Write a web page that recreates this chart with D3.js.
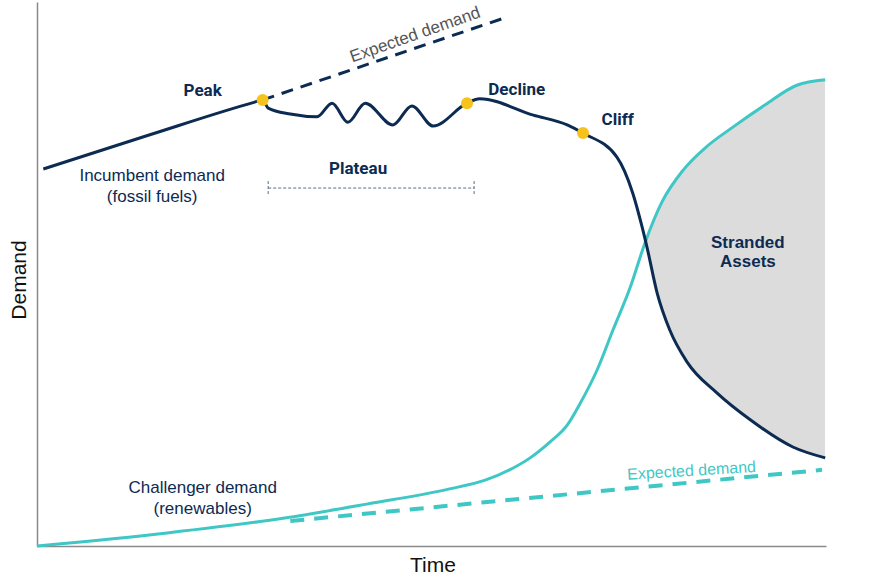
<!DOCTYPE html>
<html>
<head>
<meta charset="utf-8">
<script src="https://cdn.jsdelivr.net/npm/d3@7"></script>
<style>
  body { margin: 0; background: #fff; }
  svg { display: block; }
</style>
</head>
<body>
<div id="chart"></div>
<script>
// Demand curves: incumbent (fossil fuels) vs challenger (renewables)

// time / demand in arbitrary units 0..100
const incumbentX = [0.8, 14.3, 27.6, 28.6, 29.3, 32.1, 35.5, 37.4, 39.4, 41.6, 45.1, 47.5, 50.2, 54.5, 56.1, 62.9, 67.2, 69.2, 73.5, 75.5, 76.7, 77.3, 78.6, 80.2, 82.4, 86.2, 90.4, 95.8, 99.9];
const incumbentY = [69.3, 75.6, 81.6, 82.0, 80.5, 79.4, 78.9, 81.4, 77.9, 81.4, 77.4, 80.9, 77.2, 81.4, 82.2, 79.2, 77.4, 75.9, 71.5, 64.9, 58.6, 55.0, 46.5, 39.7, 33.8, 28.1, 23.2, 18.2, 16.2];

const challengerX = [0, 16.5, 31.2, 41.8, 52.3, 56.8, 59.9, 62.5, 65.0, 67.2, 68.8, 71.0, 73.0, 75.2, 77.1, 79.2, 81.9, 84.7, 88.2, 92.3, 96.3, 99.9];
const challengerY = [0, 2.4, 5.1, 7.7, 10.5, 12.1, 14.0, 16.2, 19.1, 22.2, 26.1, 32.4, 39.7, 47.6, 55.9, 63.2, 69.1, 73.2, 77.0, 81.1, 84.7, 85.7];

// expected (trend) demand lines
const expectedIncX = [28.6, 59.3];
const expectedIncY = [82.0, 97.1];
const expectedChalX = [32.1, 99.5];
const expectedChalY = [4.6, 14.0];

// phase markers on the incumbent curve
const phaseNames = ["Peak", "Decline", "Cliff"];
const phaseX = [28.6, 54.5, 69.2];
const phaseY = [82.0, 81.4, 75.9];

// plateau range
const plateauRange = [29.3, 55.4];
const plateauLevel = 65.8;

const navy = "#0c2b52";
const teal = "#3fc7c6";
const gold = "#f6c31c";

const W = 870, H = 584;

const svg = d3.select("#chart")
  .append("svg")
  .attr("width", W)
  .attr("height", H);

const x = d3.scaleLinear().domain([0, 100]).range([37, 826]);
const y = d3.scaleLinear().domain([0, 100]).range([546, 2]);

const zip = (xs, ys) => xs.map((v, i) => ({ x: v, y: ys[i] }));
const incumbent = zip(incumbentX, incumbentY);
const challenger = zip(challengerX, challengerY);

const curve = d3.curveMonotoneX;

const line = d3.line()
  .x(d => x(d.x))
  .y(d => y(d.y))
  .curve(curve);

////////////////////////////////
// Stranded assets: below challenger AND above incumbent
svg.append("clipPath")
  .attr("id", "above-incumbent")
  .append("path")
  .attr("d", d3.area()
    .x(d => x(d.x))
    .y0(y(100))
    .y1(d => y(d.y))
    .curve(curve)(incumbent));

svg.append("path")
  .attr("clip-path", "url(#above-incumbent)")
  .attr("fill", "#dcdcdc")
  .attr("d", d3.area()
    .x(d => x(d.x))
    .y0(y(0))
    .y1(d => y(d.y))
    .curve(curve)(challenger));

////////////////////////////////
// Axes (plain lines, no ticks)
svg.append("g")
  .attr("transform", "translate(0," + y(0) + ")")
  .call(d3.axisBottom(x).ticks(0).tickSizeOuter(0))
  .select(".domain")
  .attr("stroke", "#8a8a8a")
  .attr("stroke-width", 1.5);

svg.append("g")
  .attr("transform", "translate(" + x(0) + ",0)")
  .call(d3.axisLeft(y).ticks(0).tickSizeOuter(0))
  .select(".domain")
  .attr("stroke", "#8a8a8a")
  .attr("stroke-width", 1.5);

svg.append("text")
  .attr("transform", "translate(26," + 280 + ") rotate(-90)")
  .attr("text-anchor", "middle")
  .style("font-family", "'Liberation Sans', Arial, sans-serif")
  .style("font-size", "21px")
  .attr("fill", "#111")
  .text("Demand");

svg.append("text")
  .attr("x", 433)
  .attr("y", 572)
  .attr("text-anchor", "middle")
  .style("font-family", "'Liberation Sans', Arial, sans-serif")
  .style("font-size", "21px")
  .attr("fill", "#111")
  .text("Time");

////////////////////////////////
// Expected demand (dashed)
svg.append("path")
  .datum(zip(expectedIncX, expectedIncY))
  .attr("fill", "none")
  .attr("stroke", navy)
  .attr("stroke-width", 3)
  .attr("stroke-dasharray", "12,8")
  .attr("d", d3.line().x(d => x(d.x)).y(d => y(d.y)));

svg.append("path")
  .datum(zip(expectedChalX, expectedChalY))
  .attr("fill", "none")
  .attr("stroke", teal)
  .attr("stroke-width", 4)
  .attr("stroke-dasharray", "14,10")
  .attr("d", d3.line().x(d => x(d.x)).y(d => y(d.y)));

////////////////////////////////
// Main curves
svg.append("path")
  .datum(challenger)
  .attr("fill", "none")
  .attr("stroke", teal)
  .attr("stroke-width", 3)
  .attr("d", line);

svg.append("path")
  .datum(incumbent)
  .attr("fill", "none")
  .attr("stroke", navy)
  .attr("stroke-width", 3)
  .attr("stroke-linejoin", "round")
  .attr("d", line);

svg.selectAll("circle.phase")
  .data(zip(phaseX, phaseY))
  .enter()
  .append("circle")
  .attr("class", "phase")
  .attr("cx", d => x(d.x))
  .attr("cy", d => y(d.y))
  .attr("r", 6)
  .attr("fill", gold);

////////////////////////////////
// Plateau range marker
const plat = svg.append("g")
  .attr("stroke", "#5d6d82")
  .attr("stroke-width", 1)
  .attr("stroke-dasharray", "3,2");

plat.append("line")
  .attr("x1", x(plateauRange[0]))
  .attr("x2", x(plateauRange[1]))
  .attr("y1", y(plateauLevel))
  .attr("y2", y(plateauLevel));

plateauRange.forEach(function (v) {
  plat.append("line")
    .attr("x1", x(v))
    .attr("x2", x(v))
    .attr("y1", y(plateauLevel) - 7)
    .attr("y2", y(plateauLevel) + 7);
});

////////////////////////////////
// Labels
const boldFont = "Roboto, 'Liberation Sans', Arial, sans-serif";
const plainFont = "'Liberation Sans', Arial, sans-serif";

const labels = [
  { t: phaseNames[0], x: 21.0, y: 82.7, bold: true },
  { t: phaseNames[1], x: 60.8, y: 82.9, bold: true },
  { t: phaseNames[2], x: 73.6, y: 77.4, bold: true },
  { t: "Plateau", x: 40.7, y: 68.4, bold: true },
  { t: "Incumbent demand", x: 14.6, y: 67.1 },
  { t: "(fossil fuels)", x: 14.6, y: 63.2 },
  { t: "Challenger demand", x: 21.0, y: 9.7 },
  { t: "(renewables)", x: 21.0, y: 5.9 },
  { t: "Stranded", x: 90.1, y: 54.8, bold: true, arial: true },
  { t: "Assets", x: 90.1, y: 51.3, bold: true, arial: true },
];

svg.selectAll("text.lbl")
  .data(labels)
  .enter()
  .append("text")
  .attr("class", "lbl")
  .attr("x", d => x(d.x))
  .attr("y", d => y(d.y))
  .attr("text-anchor", "middle")
  .attr("fill", navy)
  .style("font-family", d => (d.bold && !d.arial ? boldFont : plainFont))
  .style("font-weight", d => (d.bold ? "bold" : "normal"))
  .style("font-size", "17px")
  .text(d => d.t);

svg.append("text")
  .attr("transform", "translate(" + x(47.9) + "," + y(94.1) + ") rotate(-19.5)")
  .attr("text-anchor", "middle")
  .attr("dy", "0.35em")
  .attr("fill", "#555")
  .style("font-family", plainFont)
  .style("font-size", "17px")
  .text("Expected demand");

svg.append("text")
  .attr("transform", "translate(" + x(83.0) + "," + y(12.9) + ") rotate(-3.5)")
  .attr("text-anchor", "middle")
  .attr("fill", teal)
  .style("font-family", plainFont)
  .style("font-size", "16px")
  .text("Expected demand");
</script>
</body>
</html>
